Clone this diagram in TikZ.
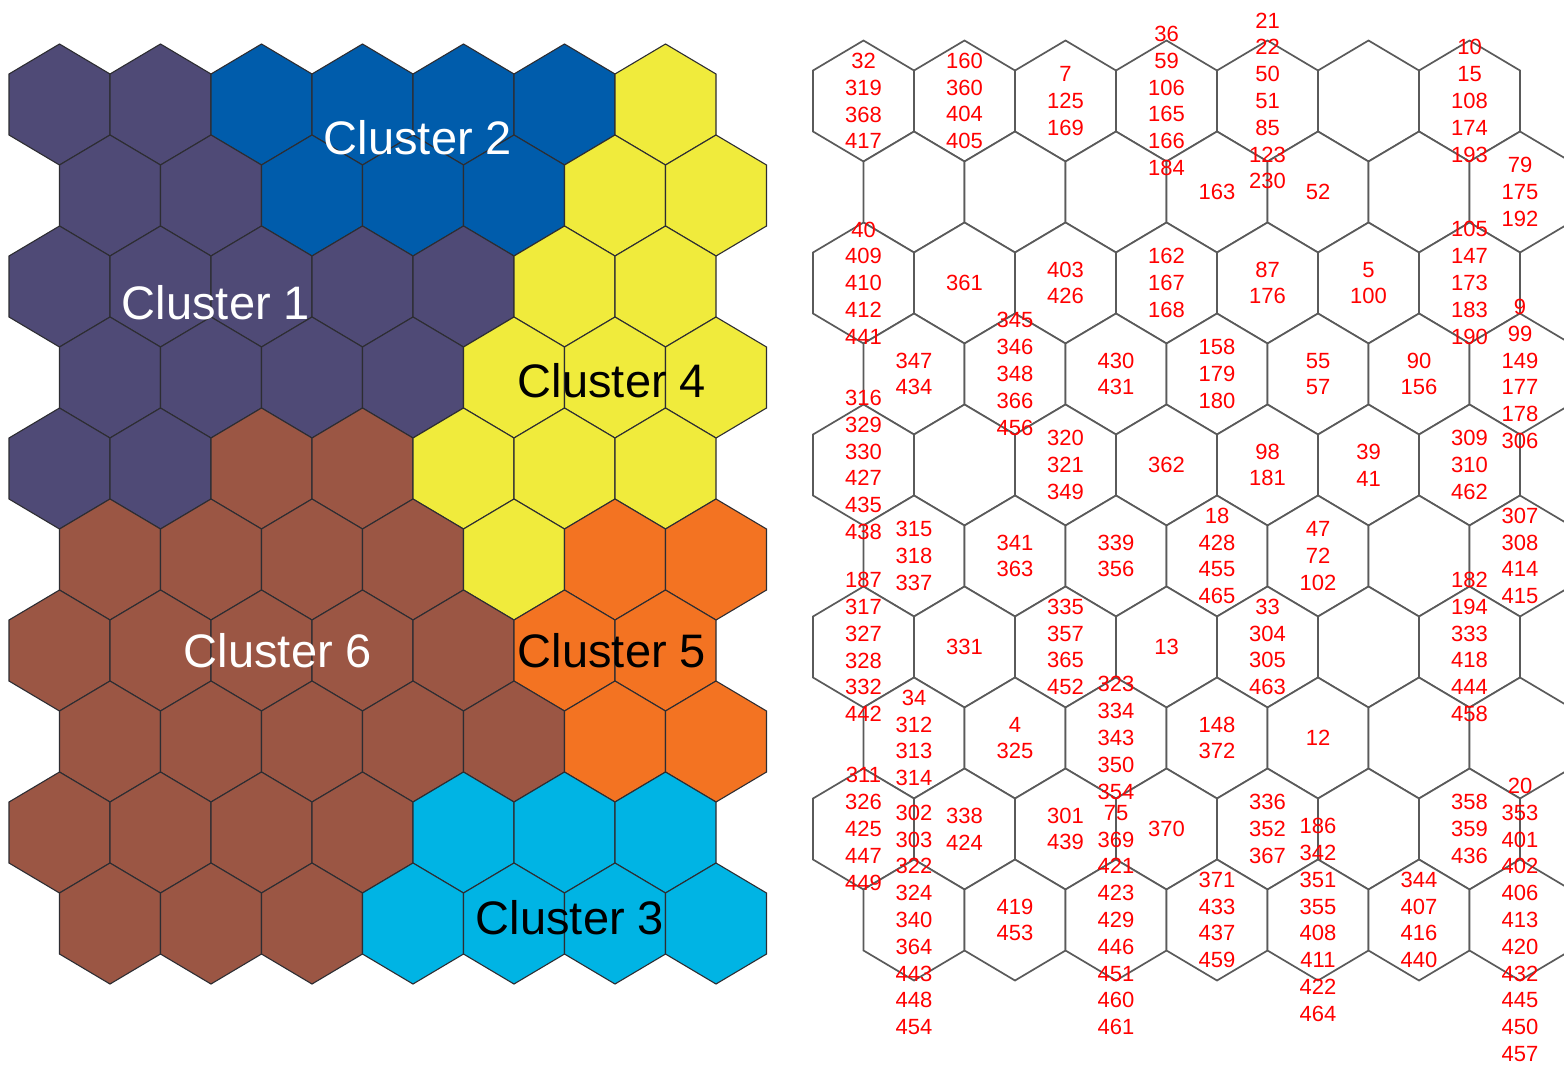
\documentclass[tikz,border=0pt]{standalone}
\usepackage{fontspec}
\setmainfont{Liberation Sans}
\definecolor{cP}{RGB}{79,74,118}
\definecolor{cB}{RGB}{0,92,171}
\definecolor{cY}{RGB}{240,235,60}
\definecolor{cN}{RGB}{155,86,68}
\definecolor{cO}{RGB}{243,115,34}
\definecolor{cC}{RGB}{0,180,228}
\definecolor{numred}{RGB}{255,0,0}
\definecolor{lline}{RGB}{45,45,50}
\definecolor{rline}{RGB}{90,90,90}
\newcommand\nstk[3]{%
  \pgfmathsetmacro\tx{863.5+101*#2+50.5*mod(#1,2)}%
  \pgfmathsetmacro\ty{101+91*#1}%
  \node[num] (n#1#2) at (\tx,\ty) {#3};}
\begin{document}
\begin{tikzpicture}[x=0.5pt,y=-0.5pt,
  lhex/.style={draw=lline,line width=0.55pt,line join=miter},
  rhex/.style={draw=rline,line width=0.85pt,fill=white,line join=miter},
  num/.style={text=numred,font=\fontsize{11}{13.4}\selectfont,align=center,inner sep=0pt},
  clab/.style={font=\fontsize{23.5}{28}\selectfont,anchor=base,inner sep=0pt}]
\useasboundingbox[fill=white] (0,0) rectangle (1564,1066);
% left panel: coloured clusters
\foreach \r/\cl in {0/{P,P,B,B,B,B,Y},1/{P,P,B,B,B,Y,Y},2/{P,P,P,P,P,Y,Y},3/{P,P,P,P,Y,Y,Y},4/{P,P,N,N,Y,Y,Y},5/{N,N,N,N,Y,O,O},6/{N,N,N,N,N,O,O},7/{N,N,N,N,N,O,O},8/{N,N,N,N,C,C,C},9/{N,N,N,C,C,C,C}}{
  \foreach \k [count=\c from 0] in \cl {
    \pgfmathsetmacro\hx{59.5+101*\c+50.5*mod(\r,2)}
    \pgfmathsetmacro\hy{104.5+91*\r}
    \filldraw[lhex,fill=c\k] (\hx,\hy) +(0,-60.5) -- +(50.5,-30.5) -- +(50.5,30.5) -- +(0,60.5) -- +(-50.5,30.5) -- +(-50.5,-30.5) -- cycle;
  }
}
% right panel: outline grid
\foreach \r in {0,...,9}{
  \foreach \c in {0,...,6}{
    \pgfmathsetmacro\hx{863.5+101*\c+50.5*mod(\r,2)}
    \pgfmathsetmacro\hy{101+91*\r}
    \draw[rhex] (\hx,\hy) +(0,-60.5) -- +(50.5,-30.5) -- +(50.5,30.5) -- +(0,60.5) -- +(-50.5,30.5) -- +(-50.5,-30.5) -- cycle;
  }
}
% cluster labels
\node[clab,text=white] (c2) at (418,154) {Cluster 2};
\node[clab,text=white] (c1) at (216,319) {Cluster 1};
\node[clab,text=black] (c4) at (612,397) {Cluster 4};
\node[clab,text=white] (c6) at (278,667) {Cluster 6};
\node[clab,text=black] (c5) at (612,667) {Cluster 5};
\node[clab,text=black] (c3) at (570,934) {Cluster 3};
% number stacks
\nstk{0}{0}{32\\319\\368\\417}
\nstk{0}{1}{160\\360\\404\\405}
\nstk{0}{2}{7\\125\\169}
\nstk{0}{3}{36\\59\\106\\165\\166\\184}
\nstk{0}{4}{21\\22\\50\\51\\85\\123\\230}
\nstk{0}{6}{10\\15\\108\\174\\193}
\nstk{1}{3}{163}
\nstk{1}{4}{52}
\nstk{1}{6}{79\\175\\192}
\nstk{2}{0}{40\\409\\410\\412\\441}
\nstk{2}{1}{361}
\nstk{2}{2}{403\\426}
\nstk{2}{3}{162\\167\\168}
\nstk{2}{4}{87\\176}
\nstk{2}{5}{5\\100}
\nstk{2}{6}{105\\147\\173\\183\\190}
\nstk{3}{0}{347\\434}
\nstk{3}{1}{345\\346\\348\\366\\456}
\nstk{3}{2}{430\\431}
\nstk{3}{3}{158\\179\\180}
\nstk{3}{4}{55\\57}
\nstk{3}{5}{90\\156}
\nstk{3}{6}{9\\99\\149\\177\\178\\306}
\nstk{4}{0}{316\\329\\330\\427\\435\\438}
\nstk{4}{2}{320\\321\\349}
\nstk{4}{3}{362}
\nstk{4}{4}{98\\181}
\nstk{4}{5}{39\\41}
\nstk{4}{6}{309\\310\\462}
\nstk{5}{0}{315\\318\\337}
\nstk{5}{1}{341\\363}
\nstk{5}{2}{339\\356}
\nstk{5}{3}{18\\428\\455\\465}
\nstk{5}{4}{47\\72\\102}
\nstk{5}{6}{307\\308\\414\\415}
\nstk{6}{0}{187\\317\\327\\328\\332\\442}
\nstk{6}{1}{331}
\nstk{6}{2}{335\\357\\365\\452}
\nstk{6}{3}{13}
\nstk{6}{4}{33\\304\\305\\463}
\nstk{6}{6}{182\\194\\333\\418\\444\\458}
\nstk{7}{0}{34\\312\\313\\314}
\nstk{7}{1}{4\\325}
\nstk{7}{2}{323\\334\\343\\350\\354}
\nstk{7}{3}{148\\372}
\nstk{7}{4}{12}
\nstk{8}{0}{311\\326\\425\\447\\449}
\nstk{8}{1}{338\\424}
\nstk{8}{2}{301\\439}
\nstk{8}{3}{370}
\nstk{8}{4}{336\\352\\367}
\nstk{8}{6}{358\\359\\436}
\nstk{9}{0}{302\\303\\322\\324\\340\\364\\443\\448\\454}
\nstk{9}{1}{419\\453}
\nstk{9}{2}{75\\369\\421\\423\\429\\446\\451\\460\\461}
\nstk{9}{3}{371\\433\\437\\459}
\nstk{9}{4}{186\\342\\351\\355\\408\\411\\422\\464}
\nstk{9}{5}{344\\407\\416\\440}
\nstk{9}{6}{20\\353\\401\\402\\406\\413\\420\\432\\445\\450\\457}
\end{tikzpicture}
\end{document}
